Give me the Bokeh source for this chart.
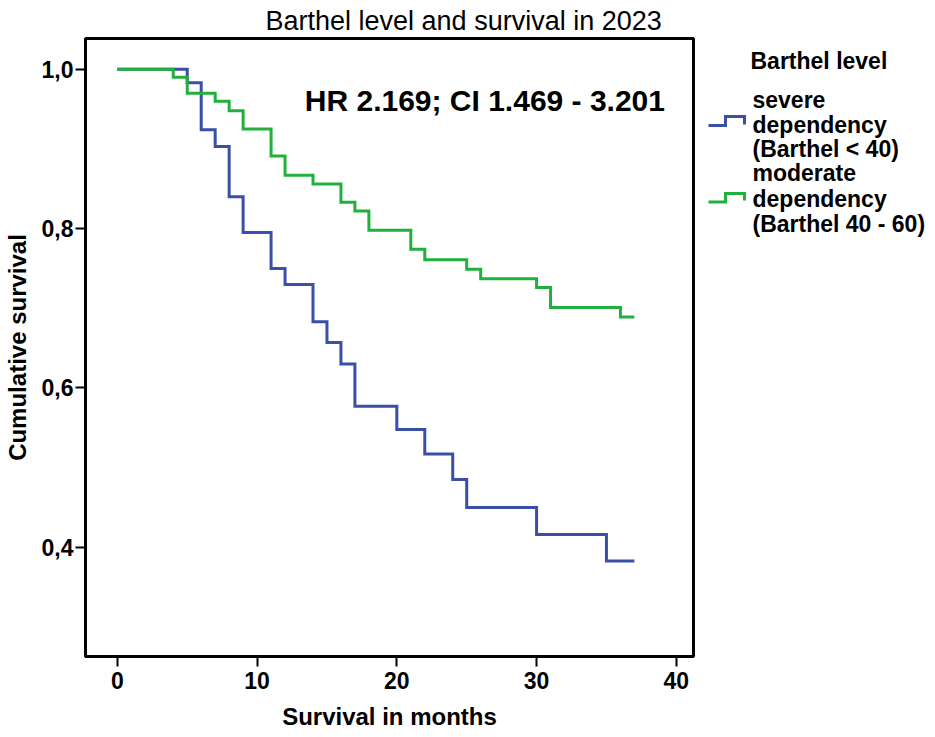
from bokeh.plotting import figure
from bokeh.layouts import row
from bokeh.models import Range1d, FixedTicker, CustomJSTickFormatter, Label
from bokeh.core.properties import value
from bokeh.embed import file_html
from bokeh.resources import INLINE

# ---- data ----
severe_months = [0, 5, 6, 7, 8, 9, 11, 12, 14, 15, 16, 17, 20, 22, 24, 25, 30, 35, 37]
severe_surv = [1.0, 0.983, 0.924, 0.903, 0.840, 0.795, 0.750, 0.730, 0.683, 0.657,
               0.630, 0.577, 0.548, 0.517, 0.485, 0.450, 0.416, 0.383, 0.383]
moderate_months = [0, 4, 5, 7, 8, 9, 11, 12, 14, 16, 17, 18, 21, 22, 25, 26, 30, 31, 36, 37]
moderate_surv = [1.0, 0.990, 0.970, 0.960, 0.948, 0.925, 0.891, 0.867, 0.856, 0.833,
                 0.822, 0.798, 0.774, 0.761, 0.749, 0.737, 0.726, 0.701, 0.689, 0.689]
x_ticks = [0, 10, 20, 30, 40]
y_ticks = [0.4, 0.6, 0.8, 1.0]
title_text = "Barthel level and survival in 2023"
hr_text = "HR 2.169; CI 1.469 - 3.201"
x_label = "Survival in months"
y_label = "Cumulative survival"
legend_title = "Barthel level"
legend_entries = [["severe", "dependency", "(Barthel < 40)"],
                  ["moderate", "dependency", "(Barthel 40 - 60)"]]

BLUE = "#3a4fa6"
GREEN = "#22b03c"
FONT = "Liberation Sans"

X0, X1 = -2.28, 41.23
Y0, Y1 = 0.263, 1.0386
FL, FT, FW, FH = 83, 38, 610, 618   # frame position on the page (px)
PW, H = 700, 735                    # main figure size
LW = 230                            # legend panel width
FB = H - FT - FH                    # bottom border


def sx(px):
    return X0 + (px - FL) / FW * (X1 - X0)


def sy(py):
    return Y1 - (py - FT) / FH * (Y1 - Y0)


p = figure(width=PW, height=H, output_backend="svg", toolbar_location=None,
           x_range=Range1d(X0, X1), y_range=Range1d(Y0, Y1),
           min_border_left=FL, min_border_top=FT,
           min_border_right=PW - FL - FW, min_border_bottom=FB)
p.grid.visible = False
p.background_fill_color = "white"
p.border_fill_color = "white"
p.outline_line_color = "black"
p.outline_line_width = 3

p.title.text = title_text
p.title.text_font = FONT
p.title.text_font_size = "27px"
p.title.text_font_style = "normal"
p.title.text_color = "black"
p.title.align = "left"
p.title.offset = 180
p.title.standoff = 5

for ax in (p.xaxis[0], p.yaxis[0]):
    ax.axis_line_width = 3
    ax.axis_line_color = "black"
    ax.major_tick_line_width = 2
    ax.major_tick_line_color = "black"
    ax.major_tick_out = 10
    ax.major_tick_in = 0
    ax.minor_tick_line_color = None
    ax.major_label_text_font = FONT
    ax.major_label_text_font_style = "bold"
    ax.major_label_text_font_size = "23px"
    ax.major_label_text_color = "black"
    ax.axis_label_text_font = FONT
    ax.axis_label_text_font_style = "bold"
    ax.axis_label_text_font_size = "24px"
    ax.axis_label_text_color = "black"

p.xaxis[0].ticker = FixedTicker(ticks=x_ticks)
p.xaxis[0].formatter = CustomJSTickFormatter(code="return tick.toFixed(0);")
p.xaxis[0].major_label_standoff = 5
p.xaxis[0].axis_label = x_label
p.xaxis[0].axis_label_standoff = 11
p.yaxis[0].ticker = FixedTicker(ticks=y_ticks)
p.yaxis[0].formatter = CustomJSTickFormatter(code="return tick.toFixed(1).replace('.', ',');")
p.yaxis[0].major_label_standoff = 2
p.yaxis[0].axis_label = y_label
p.yaxis[0].axis_label_standoff = 8

p.step(severe_months, severe_surv, mode="after", line_color=BLUE, line_width=3, line_join="miter")
p.step(moderate_months, moderate_surv, mode="after", line_color=GREEN, line_width=3, line_join="miter")

p.add_layout(Label(x=sx(303), y=sy(100), text=hr_text, text_font=FONT,
                   text_font_size="30px", text_font_style="bold", text_color="black",
                   text_align="left", text_baseline="alphabetic"))

# ---- legend panel: frame aligned with the main frame, coordinates = page pixels ----
q = figure(width=LW, height=H, output_backend="svg", toolbar_location=None,
           x_range=Range1d(PW, PW + LW), y_range=Range1d(FT + FH, FT),
           min_border_left=0, min_border_right=0,
           min_border_top=FT, min_border_bottom=FB)
q.axis.visible = False
q.grid.visible = False
q.outline_line_color = None
q.background_fill_color = "white"
q.border_fill_color = "white"

q.text(x=[750], y=[60], text=[legend_title], text_font=value(FONT), text_font_size="23px",
       text_font_style="bold", text_color="black", text_baseline="alphabetic")

baselines = [[99, 124, 148], [172, 198, 223]]
tx, ty, tt = [], [], []
for lines, bls in zip(legend_entries, baselines):
    for t, b in zip(lines, bls):
        tx.append(752)
        ty.append(b)
        tt.append(t)
q.text(x=tx, y=ty, text=tt, text_font=value(FONT), text_font_size="23px",
       text_font_style="bold", text_color="black", text_baseline="alphabetic")

icons = [(BLUE, 125, 116, 124), (GREEN, 201.5, 193, 200)]
for color, ylow, yhigh, yend in icons:
    q.line(x=[708, 725, 725, 744, 744], y=[ylow, ylow, yhigh, yhigh, yend],
           line_color=color, line_width=3, line_join="miter")

layout = row(p, q, spacing=0)
open("out.html", "w").write(file_html(layout, INLINE))
